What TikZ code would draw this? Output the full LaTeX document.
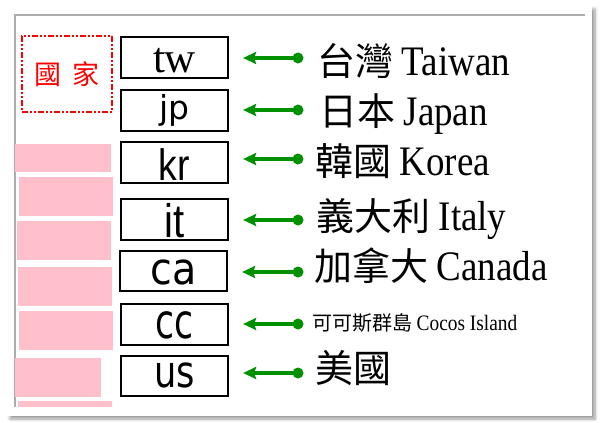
\documentclass[tikz,border=0pt]{standalone}
\usepackage{graphicx}
\usepackage{fontspec}
\setmainfont{Liberation Serif}
\newfontfamily\cjk{Noto Sans CJK TC}
\newfontfamily\dvs{DejaVu Sans}
\newfontfamily\lsans{Liberation Sans}
\usetikzlibrary{arrows.meta,shadows.blur}
\newcommand\latw[2]{\scalebox{0.88}[1]{\rmfamily\fontsize{#1}{#1}\selectfont #2}}
\newcommand\sqzt[3]{\scalebox{#1}[1]{\fontsize{#2}{#2}\selectfont #3}}
\definecolor{arrgreen}{RGB}{0,145,0}
\definecolor{pinkbar}{RGB}{255,192,203}
\tikzset{
  codebox/.style={draw, line width=2.2pt, minimum width=107pt, inner sep=0pt},
  dotnode/.style={circle, fill=arrgreen, inner sep=0pt, minimum size=11pt},
  conn/.style={draw=arrgreen, line width=3.4pt, shorten >=14pt,
    -{Stealth[length=13pt,width=12pt,inset=2pt]}},
  lab/.style={anchor=base west, inner sep=0pt},
  bar/.style={fill=pinkbar, draw=none},
}
\begin{document}
\begin{tikzpicture}[x=1pt,y=-1pt]
\useasboundingbox (0,0) rectangle (600,423);
% page
\fill[white, blur shadow={shadow xshift=3pt, shadow yshift=-3pt, shadow blur steps=6, shadow blur radius=3pt}] (7,6) rectangle (592,416);
\draw[gray!65, line width=1.2pt] (15,407) -- (15,15) -- (585,15);
% pink bars
\fill[bar] (15,144) rectangle (111,172);
\fill[bar] (19,177) rectangle (113,216);
\fill[bar] (17,221) rectangle (111,260);
\fill[bar] (18,267) rectangle (112,306);
\fill[bar] (19,311) rectangle (113,350);
\fill[bar] (15,358) rectangle (101,397);
\fill[bar] (18,401) rectangle (112,407);
% header box
\node[draw=red, text=red, line width=2pt, dash pattern=on 6pt off 2pt on 2pt off 2pt on 2pt off 2pt,
  minimum width=90pt, minimum height=76pt, inner sep=0pt] (head) at (67,74)
  {\cjk\fontsize{27}{29}\selectfont 國\hspace{11pt}家};
% code boxes
\node[codebox, text height=35pt, text depth=6pt] (b1) at (174.5,57.5) {\fontsize{43}{43}\selectfont tw};
\node[codebox, text height=29pt, text depth=12pt] (b2) at (174.5,110.5) {\dvs\fontsize{33}{33}\selectfont jp};
\node[codebox, text height=38pt, text depth=3pt] (b3) at (174.5,162.5) {\lsans\sqzt{0.85}{44}{kr}};
\node[codebox, text height=38pt, text depth=3pt] (b4) at (174.5,219.5) {\lsans\sqzt{0.85}{47}{it}};
\node[codebox, text height=33pt, text depth=7pt] (b5) at (173.5,271) {\dvs\sqzt{0.9}{44}{ca}};
\node[codebox, text height=34pt, text depth=7pt] (b6) at (174.5,324.5) {\dvs\sqzt{0.72}{48}{cc}};
\node[codebox, text height=31pt, text depth=9pt] (b7) at (174.5,376) {\dvs\sqzt{0.8}{44}{us}};
% dots
\node[dotnode] (d1) at (298,58) {};
\node[dotnode] (d2) at (298,110) {};
\node[dotnode] (d3) at (298,159) {};
\node[dotnode] (d4) at (298,220) {};
\node[dotnode] (d5) at (298,272) {};
\node[dotnode] (d6) at (298,324) {};
\node[dotnode] (d7) at (298,373) {};
% connectors
\foreach \i in {1,...,7}{
  \draw[conn] (d\i.center) -- (b\i.east |- d\i.center);
}
% labels
\node[lab] (t1) at (317,75) {\cjk\fontsize{38}{40}\selectfont 台灣\ \latw{42}{Taiwan}};
\node[lab] (t2) at (319,125) {\cjk\fontsize{38}{40}\selectfont 日本\ \latw{42}{Japan}};
\node[lab] (t3) at (315,175) {\cjk\fontsize{38}{40}\selectfont 韓國\ \latw{42}{Korea}};
\node[lab] (t4) at (316,230) {\cjk\fontsize{38}{40}\selectfont 義大利\ \latw{42}{Italy}};
\node[lab] (t5) at (314,280) {\cjk\fontsize{38}{40}\selectfont 加拿大\ \latw{42}{Canada}};
\node[lab] (t6) at (312,330) {\cjk\fontsize{20}{22}\selectfont 可可斯群島\ \latw{22}{Cocos Island}};
\node[lab] (t7) at (315,382) {\cjk\fontsize{38}{40}\selectfont 美國};
\end{tikzpicture}
\end{document}
